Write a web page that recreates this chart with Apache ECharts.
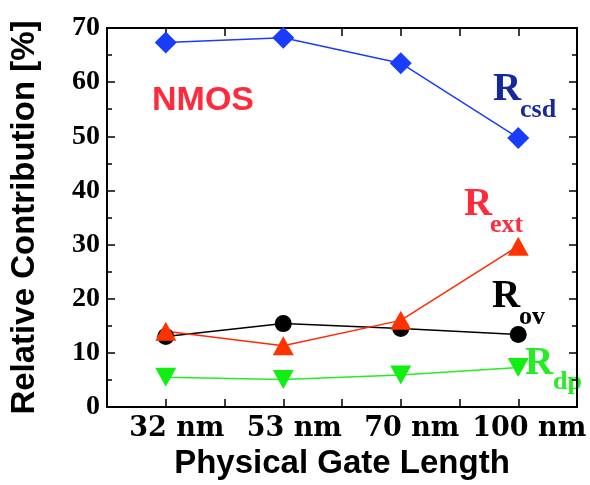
<!DOCTYPE html>
<html>
<head>
<meta charset="utf-8">
<script src="https://cdn.jsdelivr.net/npm/echarts@6/dist/echarts.min.js"></script>
<style>html,body{margin:0;padding:0;background:#fff}#c{width:590px;height:485px}</style>
</head>
<body>
<div id="c"></div>
<script>
var categories = ['32 nm', '53 nm', '70 nm', '100 nm'];
var rcsd = [67.3, 68.2, 63.5, 49.7];
var rext = [14.0, 11.3, 16.0, 29.7];
var rov  = [13.0, 15.4, 14.5, 13.4];
var rdp  = [5.5, 5.1, 5.9, 7.3];
var yTicks = [0, 10, 20, 30, 40, 50, 60, 70];

function pts(arr){ return arr.map(function(v,i){ return [i, v]; }); }

var chart = echarts.init(document.getElementById('c'), null, {renderer:'canvas'});
var serifLbl = {fontFamily:'Liberation Serif', fontWeight:'bold', fontSize:28, color:'#000'};
var option = {
  animation:false,
  backgroundColor:'#fff',
  grid:{left:107, right:13, top:28, bottom:75, show:false},
  xAxis:[{
    type:'value', min:-0.5, max:3.5, interval:0.5,
    axisLine:{show:true, onZero:false, lineStyle:{color:'#000', width:2}},
    axisTick:{show:true, inside:true, length:8, lineStyle:{color:'#000', width:1.5}},
    splitLine:{show:false},
    axisLabel:{margin:8, padding:[0,0,0,22], fontFamily:'DejaVu Serif', fontWeight:'bold', fontSize:27, color:'#000',
      showMinLabel:true, showMaxLabel:true, hideOverlap:false,
      formatter:function(v){ return (Math.abs(v-Math.round(v))<1e-6 && v>=0 && v<categories.length) ? categories[Math.round(v)] : ''; }},
    name:'Physical Gate Length', nameLocation:'middle', nameGap:40,
    nameTextStyle:{fontFamily:'Liberation Sans', fontWeight:'bold', fontSize:33, color:'#000'}
  },{
    type:'value', position:'top', min:-0.5, max:3.5, interval:0.5,
    axisLine:{show:true, onZero:false, lineStyle:{color:'#000', width:2}},
    axisTick:{show:true, inside:true, length:8, lineStyle:{color:'#000', width:1.5}},
    axisLabel:{show:false}, splitLine:{show:false}
  }],
  yAxis:[{
    type:'value', min:yTicks[0], max:yTicks[yTicks.length-1], interval:10,
    axisLine:{show:true, onZero:false, lineStyle:{color:'#000', width:2}},
    axisTick:{show:true, inside:true, length:8, lineStyle:{color:'#000', width:1.5}},
    minorTick:{show:true, splitNumber:2, length:5, lineStyle:{color:'#000', width:1.5}},
    splitLine:{show:false},
    axisLabel:Object.assign({margin:7}, serifLbl),
    name:'Relative Contribution [%]', nameLocation:'middle', nameGap:66, nameRotate:90,
    nameTextStyle:{fontFamily:'Liberation Sans', fontWeight:'bold', fontSize:33, color:'#000'}
  },{
    type:'value', position:'right', min:0, max:70, interval:10,
    axisLine:{show:true, onZero:false, lineStyle:{color:'#000', width:2}},
    axisTick:{show:true, inside:true, length:8, lineStyle:{color:'#000', width:1.5}},
    minorTick:{show:true, splitNumber:2, length:5, lineStyle:{color:'#000', width:1.5}},
    axisLabel:{show:false}, splitLine:{show:false}
  }],
  series:[
    {type:'line', name:'Rov', data:pts(rov), symbol:'circle', symbolSize:17,
     lineStyle:{color:'#000', width:1.5}, itemStyle:{color:'#000'}},
    {type:'line', name:'Rext', data:pts(rext), symbol:'triangle', symbolSize:[21,19],
     lineStyle:{color:'#ff2a00', width:1.5}, itemStyle:{color:'#ff3300'}},
    {type:'line', name:'Rdp', data:pts(rdp), symbol:'triangle', symbolRotate:180, symbolSize:[21,19],
     lineStyle:{color:'#22ee22', width:1.5}, itemStyle:{color:'#11ee11'}},
    {type:'line', name:'Rcsd', data:pts(rcsd), symbol:'diamond', symbolSize:[22,22],
     lineStyle:{color:'#1a3cff', width:1.5}, itemStyle:{color:'#1a3cff'}}
  ],
  graphic:[
    {type:'text', left:152, top:84, style:{text:'NMOS', font:'bold 34px "Liberation Sans"', fill:'#ff2a3c'}},
    {type:'text', x:493, y:90, style:{text:'R', font:'bold 39px "Liberation Serif"', fill:'#16299c', verticalAlign:'middle'}},
    {type:'text', x:520, y:110, style:{text:'csd', font:'bold 26px "Liberation Serif"', fill:'#16299c', verticalAlign:'middle'}},
    {type:'text', x:464, y:205, style:{text:'R', font:'bold 39px "Liberation Serif"', fill:'#ff2a3c', verticalAlign:'middle'}},
    {type:'text', x:490, y:225, style:{text:'ext', font:'bold 26px "Liberation Serif"', fill:'#ff2a3c', verticalAlign:'middle'}},
    {type:'text', x:492, y:297, style:{text:'R', font:'bold 39px "Liberation Serif"', fill:'#000', verticalAlign:'middle'}},
    {type:'text', x:519, y:317, style:{text:'ov', font:'bold 26px "Liberation Serif"', fill:'#000', verticalAlign:'middle'}},
    {type:'text', x:525, y:364, style:{text:'R', font:'bold 39px "Liberation Serif"', fill:'#22ee22', verticalAlign:'middle'}},
    {type:'text', x:553, y:382, style:{text:'dp', font:'bold 26px "Liberation Serif"', fill:'#22ee22', verticalAlign:'middle'}}
  ]
};
chart.setOption(option);
</script>
</body>
</html>
